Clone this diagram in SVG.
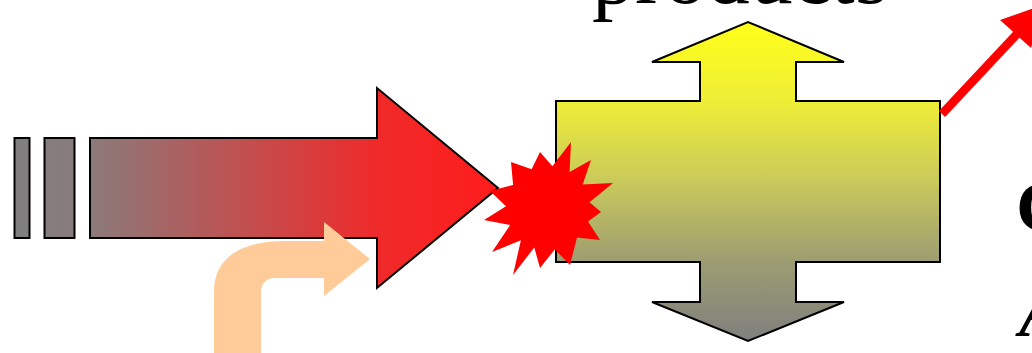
<svg xmlns="http://www.w3.org/2000/svg" width="1032" height="353" viewBox="0 0 1032 353">
  <defs>
    <linearGradient id="gRed" gradientUnits="userSpaceOnUse" x1="14" y1="0" x2="498" y2="0">
      <stop offset="0" stop-color="#7f7f7f"/>
      <stop offset="0.16" stop-color="#8c7a7a"/>
      <stop offset="0.75" stop-color="#ef2a2a"/>
      <stop offset="1" stop-color="#ff1c1c"/>
    </linearGradient>
    <linearGradient id="gYel" gradientUnits="userSpaceOnUse" x1="0" y1="22" x2="0" y2="341">
      <stop offset="0" stop-color="#ffff1a"/>
      <stop offset="0.25" stop-color="#eeee38"/>
      <stop offset="0.5" stop-color="#c9c95c"/>
      <stop offset="0.75" stop-color="#9d9d72"/>
      <stop offset="1" stop-color="#7f7f7f"/>
    </linearGradient>
  </defs>
  <style>
    .outl { stroke: #000; stroke-width: 2; stroke-linejoin: miter; }
    .serif { font-family: "Liberation Serif", "Times New Roman", serif; fill: #000; }
  </style>

  <g id="input-arrow">
    <rect class="outl" x="14.5" y="138" width="15" height="100" fill="url(#gRed)"/>
    <rect class="outl" x="44.5" y="138" width="30" height="100" fill="url(#gRed)"/>
    <path class="outl" d="M90,138 H377 V88 L498,188 L377,288 V238 H90 Z" fill="url(#gRed)"/>
  </g>

  <g id="products-shape">
    <path class="outl" d="M556,101 H700 V62 H652 L748,22 L844,62 H796 V101 H940 V262 H796 V302 H844 L748,341 L652,302 H700 V262 H556 Z" fill="url(#gYel)"/>
  </g>

  <g id="side-input">
    <path d="M214,353 V292 C214,258 240,241 285,241 H324 V222 L370,259 L324,296 V278 H275 C266,278 261,284 261,292 V353 Z" fill="#ffcc99"/>
  </g>

  <g id="explosion">
    <polygon fill="#ff0000" points="571,142 569.6,172 591,160 582.7,184.5 613,183 589.5,202.3 601,212 588,221.5 600,240 577,237.5 570,265 554.8,249.4 540,268 534.3,247.5 513,275 520.9,240.2 492,252 510.2,225 484,220 506,206.2 490,191 513.1,185 511,162 531.6,169.3 540,152 552.4,166.2"/>
  </g>

  <g id="connectors">
    <line x1="942" y1="114" x2="1017" y2="34" stroke="#ff0000" stroke-width="8.5"/>
    <polygon points="1000,20 1031,48 1043,5" fill="#ff0000"/>
  </g>

  <g id="labels">
    <text class="serif" x="592" y="3" font-size="86">products</text>
    <text class="serif" x="1016" y="231" font-size="72" font-weight="bold">C</text>
    <text class="serif" x="1019" y="336" font-size="72" font-weight="bold" font-style="italic">A</text>
  </g>
</svg>
